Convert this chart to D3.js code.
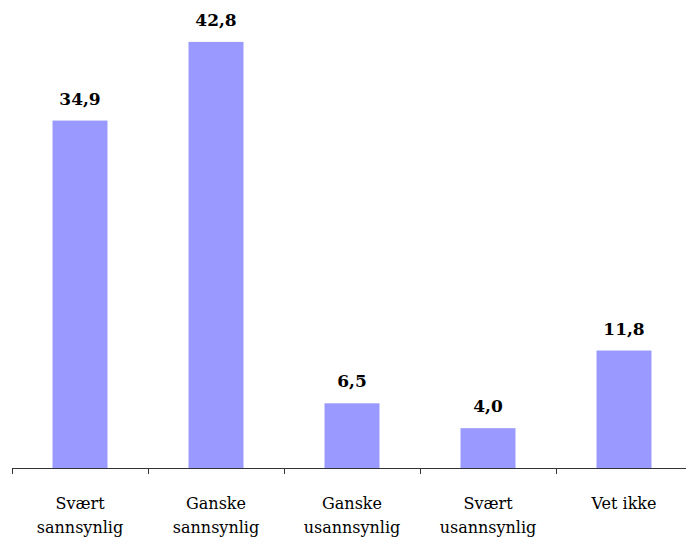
<!DOCTYPE html>
<html>
<head>
<meta charset="utf-8">
<script src="https://cdn.jsdelivr.net/npm/d3@7"></script>
<style>
  body { margin: 0; background: #fff; }
  svg { display: block; }
  text { font-family: 'DejaVu Serif', 'Liberation Serif', serif; }
</style>
</head>
<body>
<script>
'use strict';

// chart data
const categories = [
  ["Svært", "sannsynlig"],
  ["Ganske", "sannsynlig"],
  ["Ganske", "usannsynlig"],
  ["Svært", "usannsynlig"],
  ["Vet ikke"]
];
const values = [34.9, 42.8, 6.5, 4.0, 11.8];

const width = 686, height = 542;

const svg = d3.select('body')
  .append('svg')
  .attr('width', width)
  .attr('height', height);

// band scale: 5 bands of ~136px starting at x=12
let x = d3.scaleBand()
  .domain(d3.range(values.length))
  .range([12, 12 + 136 * values.length])
  .paddingInner(0)
  .paddingOuter(0);

let y = d3.scaleLinear()
  .domain([0, 45])
  .range([468, 20]);

const barWidth = 55;

// bars
svg.selectAll('.bar')
  .data(values)
  .enter()
  .append('rect')
  .attr('class', 'bar')
  .attr('x', (d, i) => x(i) + x.bandwidth() / 2 - barWidth / 2)
  .attr('y', (d) => y(d))
  .attr('width', barWidth)
  .attr('height', (d) => y(0) - y(d))
  .attr('fill', '#9999ff');

// value labels
svg.selectAll('.val')
  .data(values)
  .enter()
  .append('text')
  .attr('class', 'val')
  .attr('x', (d, i) => x(i) + x.bandwidth() / 2)
  .attr('y', (d) => y(d) - 16)
  .attr('text-anchor', 'middle')
  .attr('font-weight', 'bold')
  .attr('font-size', '17px')
  .text((d) => d.toFixed(1).replace('.', ','));

// x axis with ticks at band boundaries
let axisG = svg.append('g')
  .attr('stroke', '#333')
  .attr('stroke-width', 1);

axisG.append('line')
  .attr('x1', x(0))
  .attr('x2', width)
  .attr('y1', y(0) + 0.5)
  .attr('y2', y(0) + 0.5);

axisG.selectAll('.tick')
  .data(d3.range(values.length))
  .enter()
  .append('line')
  .attr('x1', (d) => x(d) + 0.5)
  .attr('x2', (d) => x(d) + 0.5)
  .attr('y1', y(0))
  .attr('y2', y(0) + 6);

// category labels
let labels = svg.selectAll('.cat')
  .data(categories)
  .enter()
  .append('text')
  .attr('class', 'cat')
  .attr('text-anchor', 'middle')
  .attr('font-size', '16px')
  .attr('fill', '#000');

labels.selectAll('tspan')
  .data((d, i) => d.map((t) => ({ t: t, i: i })))
  .enter()
  .append('tspan')
  .attr('x', (d) => x(d.i) + x.bandwidth() / 2)
  .attr('y', (d, j) => 509 + j * 24)
  .text((d) => d.t);
</script>
</body>
</html>
